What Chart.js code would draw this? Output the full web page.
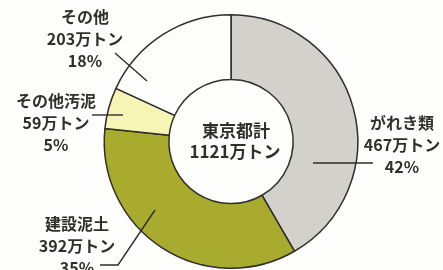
<!DOCTYPE html>
<html>
<head>
<meta charset="utf-8">
<script src="https://cdn.jsdelivr.net/npm/chart.js@4"></script>
<style>
  html, body { margin: 0; padding: 0; background: #fefefc; }
  #wrap { width: 443px; height: 270px; position: relative; }
</style>
</head>
<body>
<div id="wrap"><canvas id="wasteChart"></canvas></div>
<script>
// Data (万トン)
const categories = ['がれき類', '建設泥土', 'その他汚泥', 'その他'];
const amounts = [467, 392, 59, 203];
const percents = [42, 35, 5, 18];
const totalLabel = '東京都計';
const totalAmount = 1121;
const sliceColors = ['#d2d1cc', '#a9ab2e', '#f7f5b6', '#fdfdfb'];

// Where each label block sits, plus its leader line
const labelLayout = [
    { x: 402, y: 123, line: [[313, 163], [373, 163]] },
    { x: 77, y: 224, line: [[100, 265], [118, 265], [155, 210]] },
    { x: 56, y: 101, line: [[92, 115], [123, 115]] },
    { x: 85, y: 17, line: [[115, 53], [147, 81]] }
];

const labelPlugin = {
    id: 'sliceLabels',
    afterDraw(chart) {
        const ctx = chart.ctx;
        const arc = chart.getDatasetMeta(0).data[0];
        ctx.save();
        ctx.strokeStyle = '#2e2e2a';
        ctx.lineWidth = 1.4;
        ctx.fillStyle = '#2f2f2b';
        ctx.textAlign = 'center';
        ctx.textBaseline = 'middle';
        ctx.font = 'bold 16px "Noto Sans CJK JP", sans-serif';
        categories.forEach(function(name, i) {
            const l = labelLayout[i];
            ctx.beginPath();
            l.line.forEach(function(p, j) {
                if (j === 0) ctx.moveTo(p[0], p[1]); else ctx.lineTo(p[0], p[1]);
            });
            ctx.stroke();
            ctx.fillText(name, l.x, l.y);
            ctx.fillText(amounts[i] + '万トン', l.x, l.y + 22);
            ctx.fillText(percents[i] + '%', l.x, l.y + 44);
        });
        // total in the hole
        ctx.font = 'bold 17px "Noto Sans CJK JP", sans-serif';
        ctx.fillText(totalLabel, arc.x + 5, arc.y - 11);
        ctx.fillText(totalAmount + '万トン', arc.x + 4, arc.y + 10);
        ctx.restore();
    }
};

const ctx = document.getElementById('wasteChart').getContext('2d');
const wasteChart = new Chart(ctx, {
    type: 'doughnut',
    data: {
        labels: categories,
        datasets: [{
            data: amounts,
            backgroundColor: sliceColors,
            borderColor: '#2e2e2a',
            borderWidth: 1.5
        }]
    },
    options: {
        responsive: true,
        maintainAspectRatio: false,
        animation: false,
        cutout: '49%',
        layout: {
            padding: { top: 14, bottom: 1, left: 40, right: 21 }
        },
        plugins: {
            legend: { display: false },
            tooltip: { enabled: false }
        }
    },
    plugins: [labelPlugin]
});
</script>
</body>
</html>
